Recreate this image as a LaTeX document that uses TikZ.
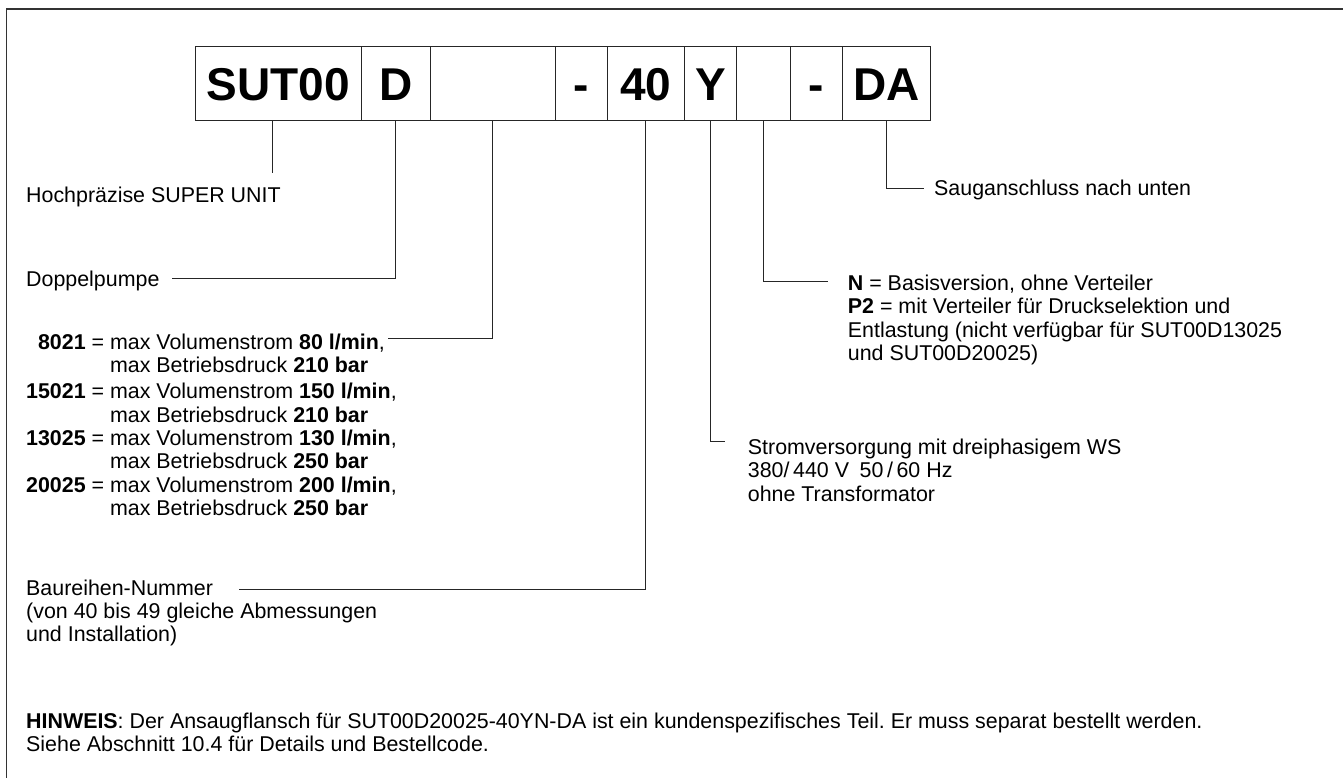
\documentclass[tikz,border=0pt]{standalone}
\usepackage{fontspec}
\setmainfont{Liberation Sans}
\frenchspacing
\begin{document}
\begin{tikzpicture}[x=1pt,y=-1pt,
  frameline/.style={line width=1.4pt,black!80},
  conn/.style={line width=1pt,black!85},
  codebox/.style={draw=black!85,line width=1pt,inner sep=0pt,minimum height=74.3pt,
    text height=33pt,text depth=0pt,font=\fontsize{46}{50}\selectfont\bfseries},
  lbl/.style={anchor=base west,inner sep=0pt,font=\fontsize{21.4}{25}\selectfont\frenchspacing}]
\useasboundingbox (0,0) rectangle (1343,778);
\fill[white] (0,0) rectangle (1343,778);
\draw[frameline] (6.7,780) -- (6.7,9) -- (1345,9);
% code boxes
\node[codebox,minimum width=166.7pt] (b1) at (278.35,83.85) {SUT00};
\node[codebox,minimum width=68.3pt]  (b2) at (395.85,83.85) {D};
\node[codebox,minimum width=125pt]   (b3) at (492.5,83.85) {};
\node[codebox,minimum width=52.7pt]  (b4) at (581.35,83.85) {-};
\node[codebox,minimum width=76.3pt]  (b5) at (645.85,83.85) {40};
\node[codebox,minimum width=52.7pt]  (b6) at (710.35,83.85) {Y};
\node[codebox,minimum width=53.3pt]  (b7) at (763.35,83.85) {};
\node[codebox,minimum width=52.7pt]  (b8) at (816.35,83.85) {-};
\node[codebox,minimum width=88pt]    (b9) at (886.7,83.85) {DA};
% labels
\node[lbl] (tHoch) at (26,202.7) {Hochpräzise SUPER UNIT};
\node[lbl] (tDop) at (26,286) {Doppelpumpe};
\node[lbl] (r1) at (26,349.4) {\hphantom{\textbf{1}}\textbf{8021} = max Volumenstrom \textbf{80 l/min},};
\node[lbl] (r2) at (26,372.7) {\hphantom{\textbf{15021} = }max Betriebsdruck \textbf{210 bar}};
\node[lbl] (r3) at (26,398.7) {\textbf{15021} = max Volumenstrom \textbf{150 l/min},};
\node[lbl] (r4) at (26,422) {\hphantom{\textbf{15021} = }max Betriebsdruck \textbf{210 bar}};
\node[lbl] (r5) at (26,445.3) {\textbf{13025} = max Volumenstrom \textbf{130 l/min},};
\node[lbl] (r6) at (26,468.7) {\hphantom{\textbf{15021} = }max Betriebsdruck \textbf{250 bar}};
\node[lbl] (r7) at (26,492.3) {\textbf{20025} = max Volumenstrom \textbf{200 l/min},};
\node[lbl] (r8) at (26,515.7) {\hphantom{\textbf{15021} = }max Betriebsdruck \textbf{250 bar}};
\node[lbl] (tBau1) at (26,595.7) {Baureihen-Nummer};
\node[lbl] (tBau2) at (26,618.5) {(von 40 bis 49 gleiche Abmessungen};
\node[lbl] (tBau3) at (26,641.3) {und Installation)};
\node[lbl] (tSaug) at (934,195.7) {Sauganschluss nach unten};
\node[lbl] (tN1) at (847.7,290.4) {\textbf{N} = Basisversion, ohne Verteiler};
\node[lbl] (tN2) at (847.7,313.9) {\textbf{P2} = mit Verteiler für Druckselektion und};
\node[lbl] (tN3) at (847.7,337.4) {Entlastung (nicht verfügbar für SUT00D13025};
\node[lbl] (tN4) at (847.7,360.9) {und SUT00D20025)};
\node[lbl] (tS1) at (747.7,454.4) {Stromversorgung mit dreiphasigem WS};
\node[lbl] (tS2) at (747.7,477.7) {380/\,440 V\enspace 50\,/\,60 Hz};
\node[lbl] (tS3) at (747.7,501) {ohne Transformator};
\node[lbl] (tH1) at (26,728.5) {\textbf{HINWEIS}: Der Ansaugflansch für SUT00D20025-40YN-DA ist ein kundenspezifisches Teil. Er muss separat bestellt werden.};
\node[lbl] (tH2) at (26,751.3) {Siehe Abschnitt 10.4 für Details und Bestellcode.};
% connector end points
\coordinate (e1) at (272,173.3);
\coordinate (e2) at (172,278.3);
\coordinate (e3) at (387.7,338.3);
\coordinate (e5) at (239,589);
\coordinate (e6) at (725,441.7);
\coordinate (e7) at (828,281.7);
\coordinate (e9) at (924,188.3);
% connectors
\draw[conn] (b1.south -| e1) -- (e1);
\draw[conn] (b2.south) |- (e2);
\draw[conn] (b3.south) |- (e3);
\draw[conn] (b5.south) |- (e5);
\draw[conn] (b6.south) |- (e6);
\draw[conn] (b7.south) |- (e7);
\draw[conn] (b9.south) |- (e9);
\end{tikzpicture}
\end{document}
